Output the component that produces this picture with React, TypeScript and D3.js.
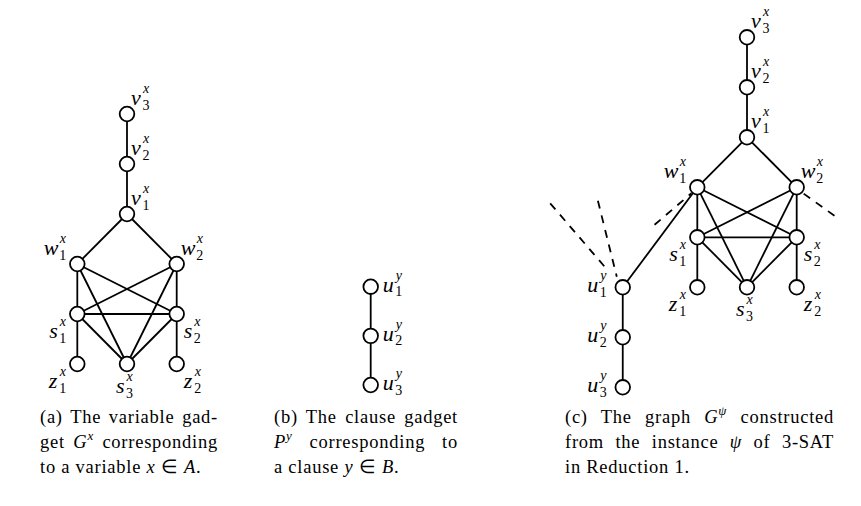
import React, { useEffect, useRef } from 'react';
import * as d3 from 'd3';

const width = 861;
const height = 506;

// node layout in grid units (col, row) for each gadget
const variableNodes = [
  { id: 'v3', col: 0, row: 0, name: 'v', sub: '3', sup: 'x', side: 'ne' },
  { id: 'v2', col: 0, row: 1, name: 'v', sub: '2', sup: 'x', side: 'ne' },
  { id: 'v1', col: 0, row: 2, name: 'v', sub: '1', sup: 'x', side: 'ne' },
  { id: 'w1', col: -1, row: 3, name: 'w', sub: '1', sup: 'x', side: 'nw' },
  { id: 'w2', col: 1, row: 3, name: 'w', sub: '2', sup: 'x', side: 'ne' },
  { id: 's1', col: -1, row: 4, name: 's', sub: '1', sup: 'x', side: 'sw' },
  { id: 's2', col: 1, row: 4, name: 's', sub: '2', sup: 'x', side: 'se' },
  { id: 'z1', col: -1, row: 5, name: 'z', sub: '1', sup: 'x', side: 'sw' },
  { id: 's3', col: 0, row: 5, name: 's', sub: '3', sup: 'x', side: 's' },
  { id: 'z2', col: 1, row: 5, name: 'z', sub: '2', sup: 'x', side: 'se' },
];
const variableEdges = [
  ['v3', 'v2'], ['v2', 'v1'], ['v1', 'w1'], ['v1', 'w2'],
  ['w1', 's1'], ['w1', 's2'], ['w1', 's3'],
  ['w2', 's1'], ['w2', 's2'], ['w2', 's3'],
  ['s1', 's2'], ['s1', 's3'], ['s2', 's3'],
  ['s1', 'z1'], ['s2', 'z2'],
];

const clauseNodes = [
  { id: 'u1', col: 0, row: 0, name: 'u', sub: '1', sup: 'y', side: 'e' },
  { id: 'u2', col: 0, row: 1, name: 'u', sub: '2', sup: 'y', side: 'e' },
  { id: 'u3', col: 0, row: 2, name: 'u', sub: '3', sup: 'y', side: 'e' },
];
const clauseEdges = [['u1', 'u2'], ['u2', 'u3']];

// in the combined graph the clause path sits left of the variable gadget
const combinedClauseNodes = [
  { id: 'u1', col: -2.5, row: 5, name: 'u', sub: '1', sup: 'y', side: 'w' },
  { id: 'u2', col: -2.5, row: 6, name: 'u', sub: '2', sup: 'y', side: 'w' },
  { id: 'u3', col: -2.5, row: 7, name: 'u', sub: '3', sup: 'y', side: 'w' },
];
const linkEdges = [['u1', 'w1']];
// dashed edges that lead to other gadgets (grid units)
const dashedStubs = [
  { from: [-2.82, 4.64], to: [-3.96, 3.32] },
  { from: [-2.62, 4.79], to: [-3.0, 3.27] },
  { from: [-1.12, 3.12], to: [-1.86, 3.75] },
  { from: [1.13, 3.12], to: [1.76, 3.57] },
];

const captionA = [
  [{ t: '(a) The variable gad-' }],
  [{ t: 'get ' }, { m: 'G', sup: 'x' }, { t: ' corresponding' }],
  [{ t: 'to a variable ' }, { m: 'x' }, { t: ' ∈ ' }, { m: 'A' }, { t: '.' }],
];
const captionB = [
  [{ t: '(b) The clause gadget' }],
  [{ m: 'P', sup: 'y' }, { t: ' corresponding to' }],
  [{ t: 'a clause ' }, { m: 'y' }, { t: ' ∈ ' }, { m: 'B' }, { t: '.' }],
];
const captionC = [
  [{ t: '(c) The graph ' }, { m: 'G', sup: 'ψ' }, { t: ' constructed' }],
  [{ t: 'from the instance ' }, { m: 'ψ' }, { t: ' of 3-SAT' }],
  [{ t: 'in Reduction 1.' }],
];

const serif = '"Liberation Serif", "Times New Roman", serif';
const nodeR = 7.3;
const lineW = 1.8;
const letterAdv = { v: 11.5, w: 15.5, s: 10, z: 10.5, u: 12.5 };
const sideOffset = {
  ne: { dx: 4, dy: -9, right: false },
  se: { dx: 7, dy: 24, right: false },
  e: { dx: 12, dy: 5, right: false },
  s: { dx: -11, dy: 29, right: false },
  nw: { dx: -10, dy: -9, right: true },
  sw: { dx: -10, dy: 24, right: true },
  w: { dx: -15, dy: 5, right: true },
};

// one text element per label: letter, subscript, then superscript stacked above it
function NodeLabel({ node, x, y }) {
  const o = sideOffset[node.side];
  const adv = letterAdv[node.name];
  const total = adv + 8;
  const lx = o.right ? x + o.dx - total : x + o.dx;
  const by = y + o.dy;
  return (
    <text x={lx} y={by} fontFamily={serif} fontStyle="italic" fontSize={22} fill="#000">
      {node.name}
      <tspan x={lx + adv} dy={4.5} fontSize={14} fontStyle="normal">{node.sub}</tspan>
      <tspan x={lx + adv + 0.5} dy={-16.5} fontSize={14}>{node.sup}</tspan>
    </text>
  );
}

function Graph({ nodes, edges, xScale, yScale, extraNodes = [], extraEdges = [], stubs = [] }) {
  const all = [...nodes, ...extraNodes];
  const pos = new Map(all.map((n) => [n.id, [xScale(n.col), yScale(n.row)]]));
  const line = d3.line();
  const allEdges = [...edges, ...extraEdges];
  return (
    <g>
      {stubs.map((s, i) => (
        <path
          key={'d' + i}
          d={line([[xScale(s.to[0]), yScale(s.to[1])], [xScale(s.from[0]), yScale(s.from[1])]])}
          stroke="#000"
          strokeWidth={lineW}
          strokeDasharray="8,7"
          fill="none"
        />
      ))}
      {allEdges.map(([a, b], i) => (
        <path key={'e' + i} d={line([pos.get(a), pos.get(b)])} stroke="#000" strokeWidth={lineW} fill="none" />
      ))}
      {all.map((n) => (
        <circle key={n.id} cx={pos.get(n.id)[0]} cy={pos.get(n.id)[1]} r={nodeR} fill="#fff" stroke="#000" strokeWidth={lineW} />
      ))}
      {all.map((n) => (
        <NodeLabel key={'l' + n.id} node={n} x={pos.get(n.id)[0]} y={pos.get(n.id)[1]} />
      ))}
    </g>
  );
}

function Caption({ lines, x, y0, justify }) {
  const ref = useRef();

  // justify the first two lines by stretching the word spaces
  useEffect(() => {
    const g = d3.select(ref.current);
    g.selectAll('text.just').each(function () {
      const el = this;
      el.style.wordSpacing = '0px';
      const natural = el.getComputedTextLength();
      const spaces = (el.textContent.match(/ /g) || []).length;
      if (spaces > 0) {
        el.style.wordSpacing = `${(justify - natural) / spaces}px`;
      }
    });
  }, [justify]);

  return (
    <g ref={ref} fontFamily={serif} fontSize={18.5} fill="#000" letterSpacing={0.75}>
      {lines.map((segs, li) => {
        const spans = [];
        let pendingDy = 0;
        segs.forEach((s, si) => {
          if (s.t !== undefined) {
            spans.push(<tspan key={si + 't'} dy={pendingDy || undefined}>{s.t}</tspan>);
            pendingDy = 0;
          } else {
            spans.push(
              <tspan key={si + 'm'} fontStyle="italic" dy={pendingDy || undefined}>{s.m}</tspan>
            );
            pendingDy = 0;
            if (s.sup) {
              spans.push(
                <tspan key={si + 's'} fontStyle="italic" fontSize={13} dy={-8}>{s.sup}</tspan>
              );
              pendingDy = 8;
            }
          }
        });
        return (
          <text
            key={li}
            className={li < 2 ? 'just' : ''}
            x={x}
            y={y0 + li * 25}
            style={{ whiteSpace: 'pre' }}
          >
            {spans}
          </text>
        );
      })}
    </g>
  );
}

export default function App() {
  const xA = d3.scaleLinear().domain([-1, 1]).range([77.3, 176.7]);
  const yA = d3.scaleLinear().domain([0, 5]).range([114, 364]);
  const xB = d3.scaleLinear().domain([0, 1]).range([370.7, 420.4]);
  const yB = d3.scaleLinear().domain([0, 2]).range([286.7, 385]);
  const xC = d3.scaleLinear().domain([-1, 1]).range([697.3, 796.7]);
  const yC = d3.scaleLinear().domain([0, 7]).range([37.3, 387.3]);

  return (
    <svg
      width={width}
      height={height}
      style={{ position: 'absolute', left: 0, top: 0, background: '#fff' }}
    >
      <Graph nodes={variableNodes} edges={variableEdges} xScale={xA} yScale={yA} />
      <Graph nodes={clauseNodes} edges={clauseEdges} xScale={xB} yScale={yB} />
      <Graph
        nodes={variableNodes}
        edges={variableEdges}
        extraNodes={combinedClauseNodes}
        extraEdges={[...clauseEdges, ...linkEdges]}
        stubs={dashedStubs}
        xScale={xC}
        yScale={yC}
      />
      <Caption lines={captionA} x={40} y0={423} justify={178} />
      <Caption lines={captionB} x={274} y0={423} justify={184} />
      <Caption lines={captionC} x={565} y0={423} justify={269} />
    </svg>
  );
}
